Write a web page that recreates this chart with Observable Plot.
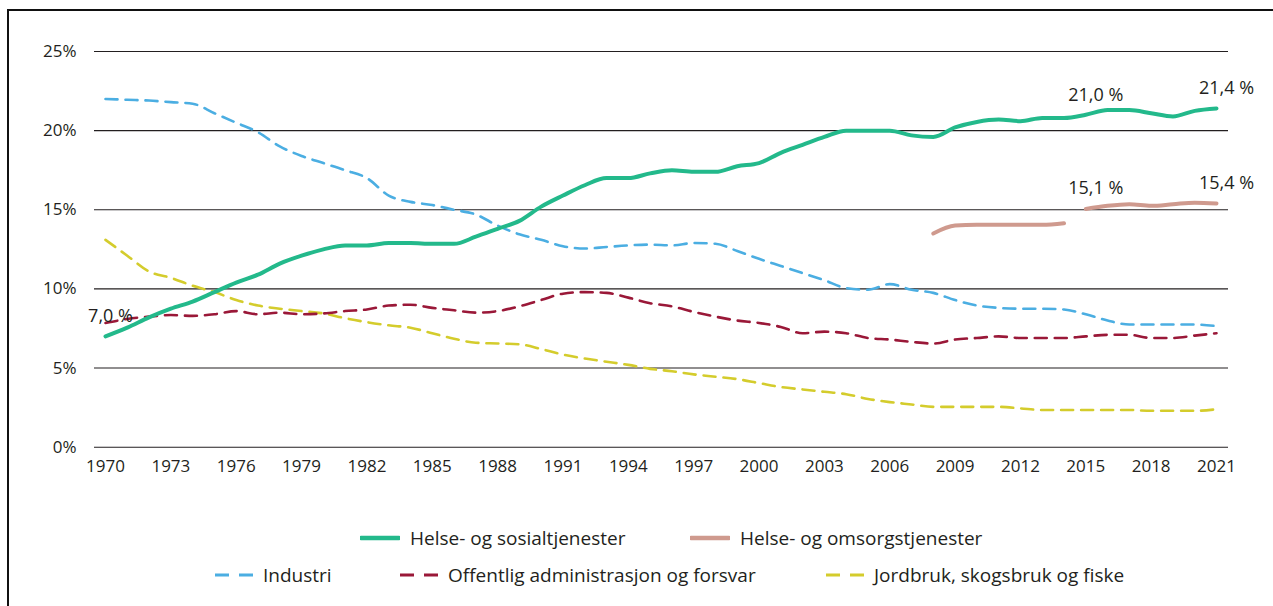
<!DOCTYPE html>
<html><head><meta charset="utf-8">
<script src="https://cdn.jsdelivr.net/npm/d3@7"></script>
<script src="https://cdn.jsdelivr.net/npm/@observablehq/plot@0.6"></script>
<style>
body{margin:0;background:#fff;font-family:"Open Sans",sans-serif;}
#wrap{position:relative;width:1273px;height:606px;overflow:hidden;background:#fff;}
#frame{position:absolute;left:7px;top:9px;width:1300px;height:700px;border-left:2px solid #111;border-top:2px solid #111;box-sizing:border-box;}
#chart{position:absolute;left:0;top:0;}
.item{position:absolute;display:flex;align-items:center;font-size:19px;color:#231f20;white-space:nowrap;}
.item svg{margin-right:10px;}
</style></head>
<body>
<div id="wrap"><div id="frame"></div><div id="chart"></div><div id="legend"></div></div>
<script>
const years = [1970,1971,1972,1973,1974,1975,1976,1977,1978,1979,1980,1981,1982,1983,1984,1985,1986,1987,1988,1989,1990,1991,1992,1993,1994,1995,1996,1997,1998,1999,2000,2001,2002,2003,2004,2005,2006,2007,2008,2009,2010,2011,2012,2013,2014,2015,2016,2017,2018,2019,2020,2021];
const helseSosial = [7.0,7.55,8.2,8.75,9.2,9.8,10.4,10.9,11.6,12.1,12.5,12.75,12.75,12.9,12.9,12.85,12.85,13.3,13.8,14.3,15.2,15.9,16.55,17.0,17.0,17.3,17.5,17.4,17.4,17.75,17.95,18.6,19.1,19.6,20.0,20.0,20.0,19.7,19.6,20.2,20.55,20.7,20.6,20.8,20.8,21.0,21.3,21.3,21.1,20.9,21.25,21.4];
const industri = [22.0,21.95,21.9,21.8,21.7,21.1,20.5,19.9,19.0,18.4,17.95,17.5,17.0,15.9,15.5,15.3,15.0,14.7,14.0,13.45,13.1,12.7,12.55,12.65,12.75,12.8,12.75,12.9,12.85,12.4,11.9,11.45,11.0,10.55,10.05,9.95,10.3,9.95,9.75,9.3,8.95,8.8,8.75,8.75,8.7,8.4,8.0,7.75,7.75,7.75,7.75,7.65];
const offentlig = [7.85,8.1,8.25,8.35,8.3,8.4,8.6,8.4,8.5,8.4,8.45,8.6,8.7,8.95,9.0,8.8,8.65,8.5,8.6,8.9,9.3,9.7,9.8,9.75,9.45,9.1,8.9,8.55,8.25,8.0,7.85,7.6,7.2,7.3,7.2,6.9,6.8,6.65,6.55,6.8,6.9,7.0,6.9,6.9,6.9,7.0,7.1,7.1,6.9,6.9,7.05,7.2];
const jordbruk = [13.1,12.1,11.1,10.7,10.2,9.8,9.3,8.95,8.75,8.6,8.45,8.15,7.9,7.7,7.55,7.2,6.85,6.6,6.55,6.5,6.2,5.85,5.6,5.4,5.2,4.95,4.8,4.6,4.45,4.3,4.05,3.8,3.65,3.5,3.35,3.05,2.85,2.7,2.55,2.55,2.55,2.55,2.45,2.35,2.35,2.35,2.35,2.35,2.3,2.3,2.3,2.4];
const omsorgYears = [2008,2009,2010,2011,2012,2013,2014,2015,2016,2017,2018,2019,2020,2021];
const omsorg = [13.5,14.0,14.05,14.05,14.05,14.05,14.15,15.05,15.25,15.35,15.25,15.35,15.45,15.4];
const omsorgSegment = ["A","A","A","A","A","A","A","B","B","B","B","B","B","B"];
const seriesNames = ["Helse- og sosialtjenester","Helse- og omsorgstjenester","Industri","Offentlig administrasjon og forsvar","Jordbruk, skogsbruk og fiske"];
const labelYears = [1970,2015,2021,2015,2021];
const labelValues = [7.0,21.0,21.4,15.1,15.4];
const labelTexts = ["7,0 %","21,0 %","21,4 %","15,1 %","15,4 %"];
const yTicks = [0,5,10,15,20,25];
const xTicks = [1970,1973,1976,1979,1982,1985,1988,1991,1994,1997,2000,2003,2006,2009,2012,2015,2018,2021];

const colors = {green:"#23b98b", pink:"#cf9a8e", blue:"#4baee2", red:"#9a1838", yellow:"#d4cc2c"};
const toRows = (vals) => years.map((y,i)=>({year:y, value:vals[i]}));
const omsorgRows = omsorgYears.map((y,i)=>({year:y, value:omsorg[i], seg:omsorgSegment[i]}));
const labelRows = labelYears.map((y,i)=>({year:y, value:labelValues[i], text:labelTexts[i]}));

const chart = Plot.plot({
  width:1273, height:481,
  marginTop:51, marginBottom:34.3, marginLeft:94, marginRight:45,
  style:{fontFamily:'"Open Sans", sans-serif', fontSize:"17px", color:"#231f20", background:"transparent", overflow:"visible"},
  x:{type:"linear", domain:[1970,2021], insetLeft:11, insetRight:12, ticks:xTicks, tickFormat:d=>String(d), tickSize:0, tickPadding:13, label:null},
  y:{domain:[0,25], ticks:yTicks, tickFormat:d=>d+"%", tickSize:0, tickPadding:18, label:null},
  marks:[
    Plot.ruleY(yTicks, {stroke:"#231f20", strokeWidth:1.1}),
    Plot.line(toRows(jordbruk), {x:"year", y:"value", stroke:colors.yellow, strokeWidth:2.6, strokeDasharray:"12,8", curve:"monotone-x"}),
    Plot.line(toRows(offentlig), {x:"year", y:"value", stroke:colors.red, strokeWidth:2.6, strokeDasharray:"12,8", curve:"monotone-x"}),
    Plot.line(toRows(industri), {x:"year", y:"value", stroke:colors.blue, strokeWidth:2.6, strokeDasharray:"12,8", curve:"monotone-x"}),
    Plot.line(omsorgRows, {x:"year", y:"value", z:"seg", stroke:colors.pink, strokeWidth:4, curve:"monotone-x"}),
    Plot.line(toRows(helseSosial), {x:"year", y:"value", stroke:colors.green, strokeWidth:4, curve:"monotone-x"}),
    Plot.text(labelRows.slice(0,1), {x:"year", y:"value", text:"text", dx:5, dy:-20, fill:"#231f20", fontSize:18, textAnchor:"middle"}),
    Plot.text(labelRows.slice(1), {x:"year", y:"value", text:"text", dx:10, dy:-20, fill:"#231f20", fontSize:18, textAnchor:"middle"})
  ]
});
document.getElementById("chart").appendChild(chart);

// Legend
const legendLayout = [
  {left:360, top:538, color:colors.green, dashed:false},
  {left:690, top:538, color:colors.pink, dashed:false},
  {left:215, top:575, color:colors.blue, dashed:true},
  {left:400, top:575, color:colors.red, dashed:true},
  {left:826, top:575, color:colors.yellow, dashed:true}
];
const legend = document.getElementById("legend");
seriesNames.forEach((name,i)=>{
  const L = legendLayout[i];
  const div = document.createElement("div");
  div.className="item";
  div.style.left=L.left+"px";
  div.style.top=(L.top-13)+"px";
  div.style.height="26px";
  const sw = L.dashed
    ? `<svg width="38" height="10"><line x1="0" y1="5" x2="38" y2="5" stroke="${L.color}" stroke-width="3" stroke-dasharray="14,10"/></svg>`
    : `<svg width="40" height="10"><line x1="1" y1="5" x2="39" y2="5" stroke="${L.color}" stroke-width="4.5" stroke-linecap="round"/></svg>`;
  div.innerHTML = sw + `<span>${name}</span>`;
  legend.appendChild(div);
});
</script>
</body></html>
